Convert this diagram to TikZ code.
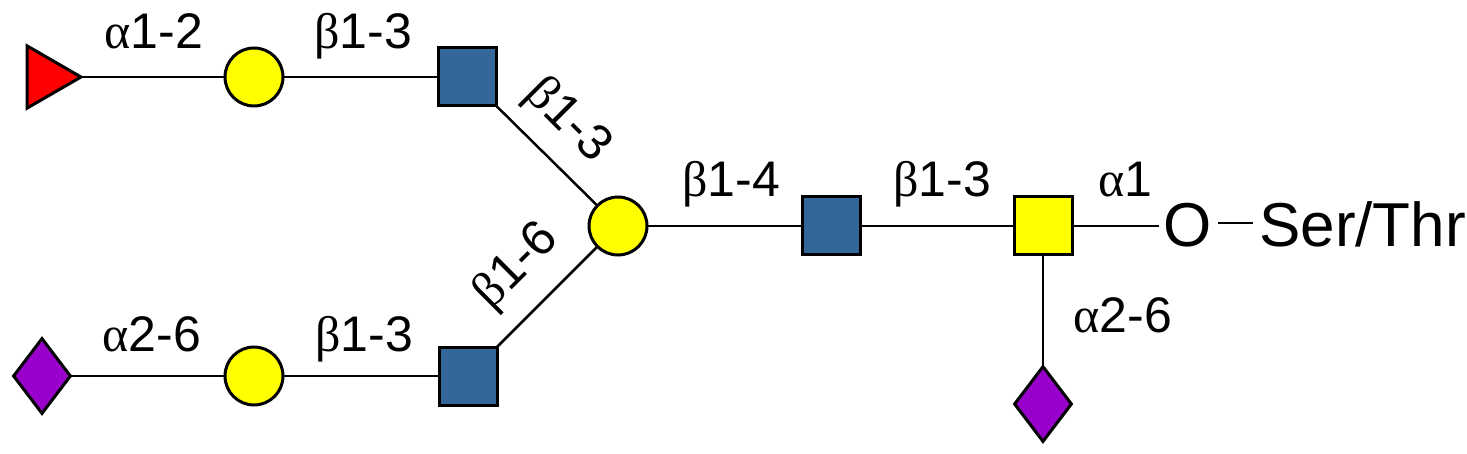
\documentclass[tikz,border=0pt]{standalone}
\usepackage{fontspec}
\setmainfont{Liberation Sans}
\newfontfamily\grk{Liberation Serif}
\usetikzlibrary{shapes.geometric}
\pgfdeclarelayer{bondlayer}
\pgfsetlayers{bondlayer,main}
\definecolor{gnblue}{HTML}{336699}
\definecolor{gnyellow}{HTML}{FFFF00}
\definecolor{gnred}{HTML}{FF0000}
\definecolor{gnpurple}{HTML}{9900CC}
\tikzset{
  sugar/.style={draw=black, line width=3pt, inner sep=0pt},
  sq/.style={sugar, rectangle, minimum size=58pt, fill=gnblue},
  ysq/.style={sugar, rectangle, minimum size=58pt, fill=gnyellow},
  circ/.style={sugar, circle, minimum size=58pt, fill=gnyellow},
  dia/.style={sugar, diamond, minimum width=58pt, minimum height=76pt, fill=gnpurple},
  tri/.style={sugar, regular polygon, regular polygon sides=3, shape border rotate=-90, minimum size=72pt, fill=gnred},
  bond/.style={line width=2.5pt, black},
  lbl/.style={font=\fontsize{50}{54}\selectfont, inner sep=0pt, anchor=base},
  big/.style={font=\fontsize{62}{66}\selectfont, inner sep=0pt, anchor=base},
}
\begin{document}
\begin{tikzpicture}[x=1pt,y=-1pt]
\useasboundingbox (0,0) rectangle (1467,454);
% residues
\node[tri]  (fuc)  at (45,77)  {};
\node[circ] (gal1) at (254,77) {};
\node[sq]   (gn1)  at (467,77) {};
\node[circ] (galc) at (618,226) {};
\node[sq]   (gn2)  at (831,226) {};
\node[ysq]  (gna)  at (1043,226) {};
\node[dia]  (neu2) at (1043,404) {};
\node[dia]  (neu1) at (42,376) {};
\node[circ] (gal2) at (254,376) {};
\node[sq]   (gn3)  at (468,376) {};
\node[big]  (O)    at (1188,247) {O};
\node[big, anchor=base west] (ser) at (1259,247) {Ser/Thr};
% bonds
\begin{pgfonlayer}{bondlayer}
\draw[bond] (fuc.center) -- (gal1.center);
\draw[bond] (gal1.center) -- (gn1.center);
\draw[bond] (gn1.center) -- (galc.center);
\draw[bond] (neu1.center) -- (gal2.center);
\draw[bond] (gal2.center) -- (gn3.center);
\draw[bond] (gn3.center) -- (galc.center);
\draw[bond] (galc.center) -- (gn2.center);
\draw[bond] (gn2.center) -- (gna.center);
\draw[bond] (gna.center) -- (neu2.center);
\draw[bond] (gna.center) -- ([xshift=-5pt]gna -| O.west);
\draw[bond] ([xshift=6pt,yshift=3pt]O.east |- gna) -- ([xshift=-6pt,yshift=3pt]ser.west |- gna);
\end{pgfonlayer}
% labels
\node[lbl] (l1) at (154,49) {{\grk α}1-2};
\node[lbl] (l2) at (363,49) {{\grk β}1-3};
\node[lbl] (l3) at (731,197) {{\grk β}1-4};
\node[lbl] (l4) at (942,197) {{\grk β}1-3};
\node[lbl] (l5) at (1125,197) {{\grk α}1};
\node[lbl] (l6) at (1123,333) {{\grk α}2-6};
\node[lbl] (l7) at (152,351) {{\grk α}2-6};
\node[lbl] (l8) at (364,351) {{\grk β}1-3};
\node[lbl, anchor=center, rotate=-45] (l9) at (567,121) {{\grk β}1-3};
\node[lbl, anchor=center, rotate=45] (l10) at (517,267) {{\grk β}1-6};
\end{tikzpicture}
\end{document}
